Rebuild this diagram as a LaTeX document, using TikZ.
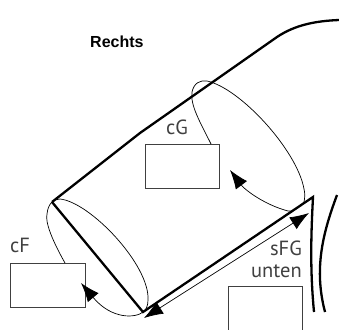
\documentclass[tikz,border=0pt]{standalone}
\usepackage{fontspec}
\setmainfont{PT Sans}
\newfontfamily\headfont{Liberation Sans}
\usetikzlibrary{arrows.meta}
\tikzset{
  wall/.style={line width=2.3pt,line join=miter},
  thin curve/.style={line width=0.7pt,black},
  box/.style={draw=black!75,line width=0.9pt,fill=white,minimum width=74pt,minimum height=44pt,inner sep=0pt,outer sep=0pt},
  lab/.style={font=\fontsize{20.5}{24}\selectfont,text=black!75,inner sep=0pt},
  tip/.style={-{Latex[length=19pt,width=14pt]}},
}
\begin{document}
\begin{tikzpicture}[x=1pt,y=-1pt]
\useasboundingbox (0,0) rectangle (339,329);
\clip (0,0) rectangle (339,329);
% boxes
\node[box,anchor=north west,minimum width=75pt] (F) at (10.5,263) {};
\node[box,anchor=north west] (G) at (145,144.5) {};
\node[box,anchor=north west,minimum height=60pt] (U) at (228,286) {};
\coordinate (A) at (52,202);
\coordinate (M) at (140,133);
\coordinate (B) at (143,312);
\coordinate (C) at (313,197);
% walls
\draw[wall] (A) -- (M) -- (277,37) .. controls (295,25) and (315,21) .. (339,20);
\draw[wall] (A) -- (B) -- (C) .. controls (311,235) and (310,270) .. (314,312);
\draw[wall] (337,195) .. controls (322,235) and (314,270) .. (325,312);
% ellipses
\draw[thin curve] (65,263) .. controls (52,240) and (45,222) .. (47,214) .. controls (48,204) and (53,199) .. (60,199) .. controls (90,202) and (150,265) .. (148,300) .. controls (148,306) and (146,310) .. (143,312);
\draw[thin curve,tip] (143,312) .. controls (136,318) and (112,320) .. (81,283);
\draw[thin curve] (211,144) .. controls (200,122) and (190,105) .. (192,92) .. controls (194,83) and (200,80) .. (207,81) .. controls (240,88) and (297,150) .. (304,189) .. controls (305,193) and (305,197) .. (304,202);
\draw[thin curve,tip] (304,202) .. controls (298,208) and (294,212) .. (288,211) .. controls (265,205) and (245,190) .. (230,170);
% span arrow
\coordinate (S1) at (144,318);
\coordinate (S2) at (309,213);
\draw[line width=0.7pt,{Latex[length=19pt,width=14pt]}-{Latex[length=19pt,width=14pt]}] (S1) -- (S2);
% labels
\node[lab,anchor=base west] (lF) at (10,252) {cF};
\node[lab,anchor=base west] (lG) at (166,134) {cG};
\node[lab,anchor=base east] (lS) at (302,255) {sFG};
\node[lab,anchor=base east] (lU) at (302,277) {unten};
\node[font=\headfont\bfseries\fontsize{16}{18}\selectfont,anchor=base west,inner sep=0pt] (R) at (90,47) {Rechts};
\end{tikzpicture}
\end{document}
